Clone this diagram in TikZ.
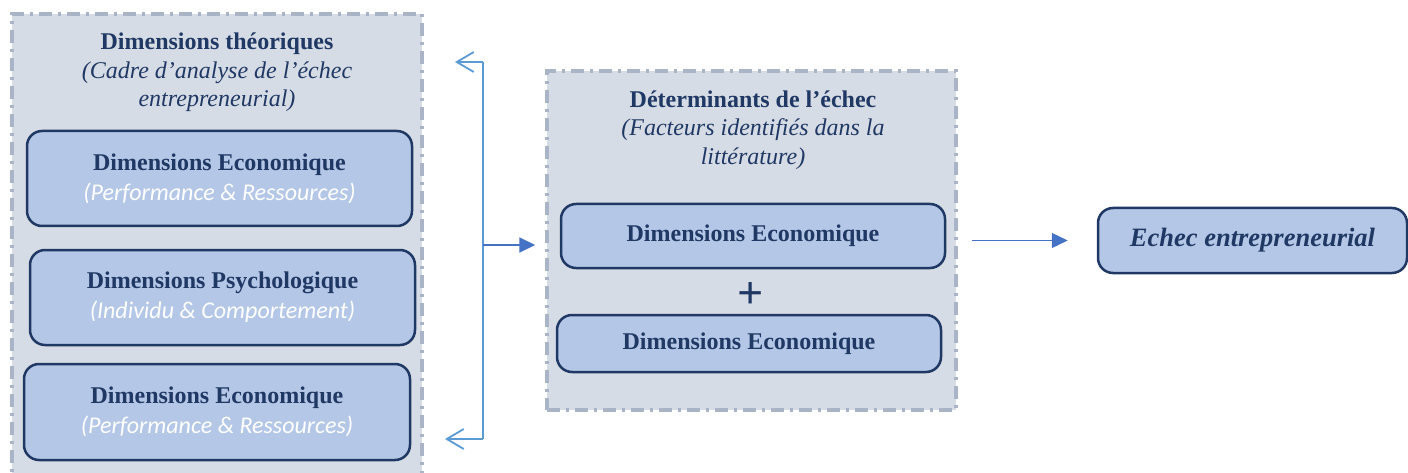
\documentclass[tikz,border=0pt]{standalone}
\usepackage{fontspec}
\setmainfont{Liberation Serif}
\newfontfamily\calib{Carlito}
\usetikzlibrary{arrows.meta}
\definecolor{navy}{HTML}{1F3864}
\definecolor{outerfill}{HTML}{D6DCE5}
\definecolor{outerline}{HTML}{A9B5C7}
\definecolor{innerfill}{HTML}{B4C7E7}
\definecolor{brkblue}{HTML}{5B9BD5}
\definecolor{arrblue}{HTML}{4472C4}
\tikzset{
  outerbox/.style={draw=outerline, fill=outerfill, line width=3.5pt,
    dash pattern=on 13pt off 6pt on 3pt off 6pt, inner sep=0pt},
  dimbox/.style={draw=navy, fill=innerfill, line width=2.5pt, rounded corners=15pt,
    align=center, text=navy, inner sep=0pt,
    font=\fontsize{24}{30}\selectfont\bfseries},
  ttl/.style={align=center, text=navy, inner sep=0pt, font=\fontsize{24}{28.5}\selectfont},
  brk/.style={draw=brkblue, line width=1.8pt},
  arr/.style={draw=arrblue, line width=1.6pt, -{Triangle[length=16pt,width=15pt]}},
}
\newcommand{\subw}[1]{{\calib\mdseries\itshape\color{white}#1}}
\begin{document}
\begin{tikzpicture}[x=1pt,y=-1pt]
\useasboundingbox (0,0) rectangle (1408,473);
\begin{scope}
\clip (0,0) rectangle (1408,473);
\node[outerbox, minimum width=410pt, minimum height=480pt] (L) at (217,254) {};
\end{scope}
\node[outerbox, minimum width=409pt, minimum height=339pt] (M) at (751.5,240.5) {};

% left column
\node[ttl] (lt) at (217,72.5) {\textbf{Dimensions théoriques}\\\textit{(Cadre d’analyse de l’échec}\\\textit{entrepreneurial)}};
\node[dimbox, minimum width=385pt, minimum height=95pt] (l1) at (219.5,178.5)
  {Dimensions Economique\\\subw{(Performance \& Ressources)}};
\node[dimbox, minimum width=385pt, minimum height=95pt] (l2) at (222.5,297.5)
  {Dimensions Psychologique\\\subw{(Individu \& Comportement)}};
\node[dimbox, minimum width=386pt, minimum height=96pt] (l3) at (217,412)
  {Dimensions Economique\\\subw{(Performance \& Ressources)}};

% middle column
\node[ttl] (mt) at (753,130) {\textbf{Déterminants de l’échec}\\\textit{(Facteurs identifiés dans la}\\\textit{littérature)}};
\node[dimbox, minimum width=384pt, minimum height=64pt] (m1) at (753,236) {Dimensions Economique};
\node[text=navy, inner sep=0pt, font=\fontsize{46}{46}\selectfont\bfseries] (plus) at (751,296) {+};
\node[dimbox, minimum width=384pt, minimum height=57pt] (m2) at (749,343.5) {Dimensions Economique};

% result
\node[dimbox, minimum width=309pt, minimum height=65pt,
  font=\fontsize{26.5}{30}\selectfont\bfseries\itshape] (E) at (1252.5,240.5) {Echec entrepreneurial};

% bracket
\coordinate (bt) at (483,62);
\coordinate (bb) at (483,439);
\coordinate (bm) at (483,245);
\coordinate (tt) at (455,62);
\coordinate (tb) at (445,439);
\draw[brk] (bt) -- (bb);
\draw[brk, -{Straight Barb[length=17pt,width=20pt]}] (bt) -- (tt);
\draw[brk, -{Straight Barb[length=17pt,width=20pt]}] (bb) -- (tb);
\draw[arr, line width=1.8pt, shorten >=10pt] (bm) -- (bm -| M.west);
\draw[arr, line width=1.3pt, shorten <=14pt, shorten >=29pt] (M.east |- E.west) -- (E.west);
\end{tikzpicture}
\end{document}
